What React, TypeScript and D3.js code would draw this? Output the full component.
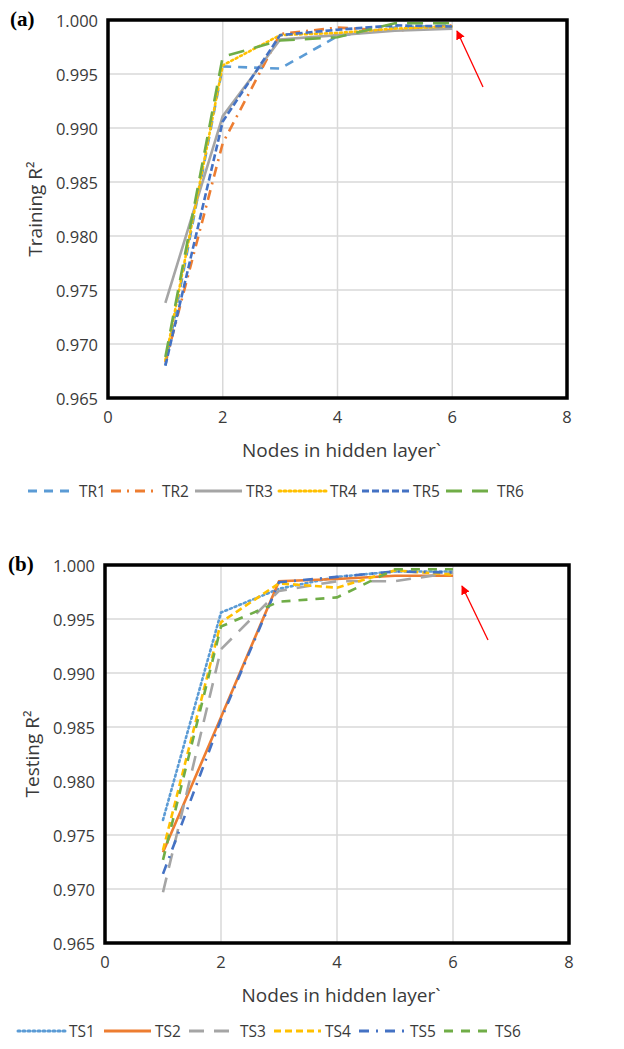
import React from 'react';
import * as d3 from 'd3';

// hidden-layer nodes and R² per run
const nodes = [1, 2, 3, 4, 5, 6];

const trainNames = ['TR1', 'TR2', 'TR3', 'TR4', 'TR5', 'TR6'];
const tr1 = [0.9680, 0.9957, 0.9955, 0.9985, 0.9993, 0.9995];
const tr2 = [0.9683, 0.9886, 0.9987, 0.9993, 0.9990, 0.9995];
const tr3 = [0.9738, 0.9911, 0.9982, 0.9986, 0.9990, 0.9992];
const tr4 = [0.9685, 0.9958, 0.9986, 0.9988, 0.9992, 0.9994];
const tr5 = [0.9680, 0.9906, 0.9986, 0.9991, 0.9995, 0.9994];
const tr6 = [0.9688, 0.9966, 0.9981, 0.9984, 0.9997, 0.9997];

const testNames = ['TS1', 'TS2', 'TS3', 'TS4', 'TS5', 'TS6'];
const ts1 = [0.9764, 0.9956, 0.9978, 0.9989, 0.9994, 0.9994];
const ts2 = [0.9734, 0.9859, 0.9985, 0.9987, 0.9990, 0.9990];
const ts3 = [0.9697, 0.9922, 0.9976, 0.9985, 0.9985, 0.9993];
const ts4 = [0.9736, 0.9947, 0.9983, 0.9979, 0.9995, 0.9991];
const ts5 = [0.9714, 0.9857, 0.9984, 0.9989, 0.9994, 0.9993];
const ts6 = [0.9727, 0.9943, 0.9966, 0.9970, 0.9996, 0.9996];

const xTicks = [0, 2, 4, 6, 8];
const yTicks = [0.965, 0.97, 0.975, 0.98, 0.985, 0.99, 0.995, 1.0];

const FONT = '"Open Sans", "Noto Sans", sans-serif';
const TXT = '#3a3a3a';

const trainStyles = [
  { color: '#5B9BD5', dash: '9,7' },
  { color: '#ED7D31', dash: '10,6,2,6' },
  { color: '#A5A5A5', dash: null },
  { color: '#FFC000', dash: '2,3' },
  { color: '#4472C4', dash: '7,3' },
  { color: '#70AD47', dash: '16,10' },
];

const testStyles = [
  { color: '#5B9BD5', dash: '2,3' },
  { color: '#ED7D31', dash: null },
  { color: '#A5A5A5', dash: '15,10' },
  { color: '#FFC000', dash: '7,4' },
  { color: '#4472C4', dash: '10,7,2,7' },
  { color: '#70AD47', dash: '9,8' },
];

const Panel = ({ id, letter, yTitle, box, series, names, styles, arrow, legendY, legendX }) => {
  const x = d3.scaleLinear().domain([0, 8]).range([box.left, box.right]);
  const y = d3.scaleLinear().domain([0.965, 1.0]).range([box.bottom, box.top]);
  const line = d3.line().x((d, i) => x(nodes[i])).y(d => y(d));
  const cy = (box.top + box.bottom) / 2;

  return (
    <g>
      <defs>
        <clipPath id={`clip-${id}`}>
          <rect x={box.left} y={box.top} width={box.right - box.left} height={box.bottom - box.top} />
        </clipPath>
        <marker id={`arrow-${id}`} viewBox="0 0 10 10" refX="9" refY="5" markerWidth="7" markerHeight="7" orient="auto">
          <path d="M0,0 L10,5 L0,10 z" fill="#FF0000" />
        </marker>
      </defs>

      {/* grid */}
      {yTicks.map(t => (
        <line key={'gy' + t} x1={box.left} x2={box.right} y1={y(t)} y2={y(t)} stroke="#d9d9d9" strokeWidth={1.5} />
      ))}
      {xTicks.map(t => (
        <line key={'gx' + t} x1={x(t)} x2={x(t)} y1={box.top} y2={box.bottom} stroke="#d9d9d9" strokeWidth={1.5} />
      ))}

      <g clipPath={`url(#clip-${id})`}>
        {series.map((s, i) => (
          <path key={names[i]} d={line(s)} fill="none" stroke={styles[i].color} strokeWidth={2.6}
            strokeDasharray={styles[i].dash || undefined} strokeLinecap={styles[i].dash === '2,3' ? 'round' : 'butt'} />
        ))}
      </g>

      <rect x={box.left} y={box.top} width={box.right - box.left} height={box.bottom - box.top}
        fill="none" stroke="#000" strokeWidth={3.5} />

      {/* tick labels */}
      {yTicks.map(t => (
        <text key={'ty' + t} x={box.left - 10} y={y(t)} textAnchor="end" dominantBaseline="central"
          fontFamily={FONT} fontSize={16.5} fill={TXT}>{d3.format('.3f')(t)}</text>
      ))}
      {xTicks.map(t => (
        <text key={'tx' + t} x={x(t)} y={box.bottom + 18} textAnchor="middle" dominantBaseline="central"
          fontFamily={FONT} fontSize={16.5} fill={TXT}>{t}</text>
      ))}

      <text x={(box.left + box.right) / 2 + 4} y={box.bottom + 52} textAnchor="middle" dominantBaseline="central"
        fontFamily={FONT} fontSize={19} fill={TXT}>Nodes in hidden layer`</text>
      <text transform={`translate(${box.left - 73},${cy}) rotate(-90)`} textAnchor="middle" dominantBaseline="central"
        fontFamily={FONT} fontSize={19} fill={TXT}>{yTitle} R²</text>

      <text x={box.letterX} y={box.top + 6} fontFamily='"Liberation Serif", "DejaVu Serif", serif'
        fontWeight="bold" fontSize={21} fill="#000">{letter}</text>

      <line x1={arrow[0]} y1={arrow[1]} x2={arrow[2]} y2={arrow[3]} stroke="#FF0000" strokeWidth={1.3}
        markerEnd={`url(#arrow-${id})`} />

      {/* legend */}
      {names.map((n, i) => (
        <g key={'lg' + n} transform={`translate(${legendX[i]},${legendY})`}>
          <line x1={0} x2={47} y1={0} y2={0} stroke={styles[i].color} strokeWidth={3}
            strokeDasharray={styles[i].dash || undefined} strokeLinecap={styles[i].dash === '2,3' ? 'round' : 'butt'} />
          <text x={51} y={0} dominantBaseline="central" fontFamily={FONT} fontSize={15.5} fill={TXT}>{n}</text>
        </g>
      ))}
    </g>
  );
};

export default function App() {
  return (
    <svg width={624} height={1049} style={{ position: 'absolute', left: 0, top: 0, background: '#fff' }}>
      <Panel id="a" letter="(a)" yTitle="Training"
        box={{ left: 108, right: 567, top: 20, bottom: 398, letterX: 10 }}
        series={[tr1, tr2, tr3, tr4, tr5, tr6]} names={trainNames} styles={trainStyles}
        arrow={[483, 87, 457, 31]} legendY={491} legendX={[28, 111, 195, 279, 362, 446]} />
      <Panel id="b" letter="(b)" yTitle="Testing"
        box={{ left: 105, right: 569, top: 565, bottom: 943, letterX: 8 }}
        series={[ts1, ts2, ts3, ts4, ts5, ts6]} names={testNames} styles={testStyles}
        arrow={[488, 640, 462, 586]} legendY={1031} legendX={[18, 104, 189, 274, 359, 444]} />
    </svg>
  );
}
